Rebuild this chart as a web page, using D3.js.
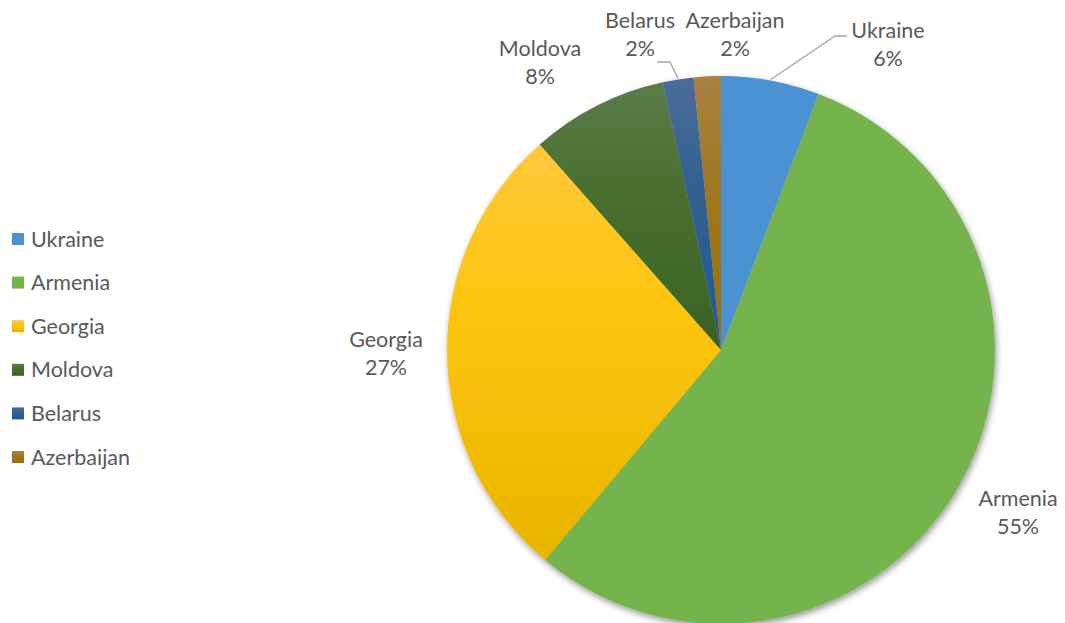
<!DOCTYPE html>
<html>
<head>
<meta charset="utf-8">
<script src="https://cdn.jsdelivr.net/npm/d3@7"></script>
<style>
  html, body { margin: 0; padding: 0; background: #fff; }
  svg { display: block; font-family: Lato, "Open Sans", sans-serif; }
</style>
</head>
<body>
<svg id="chart" width="1065" height="623"></svg>
<script>
// Share by country (percent)
const categories = ["Ukraine", "Armenia", "Georgia", "Moldova", "Belarus", "Azerbaijan"];
const values = [5.8, 55.3, 27.4, 8.1, 1.8, 1.6];
const labels = ["6%", "55%", "27%", "8%", "2%", "2%"];

// Slice fills: top, middle and bottom of a vertical gradient
const fillTop = ["#4b92d2", "#75b34d", "#ffc83c", "#5b7c4b", "#4a6c9c", "#a98141"];
const fillMid = ["#4b92d2", "#75b34d", "#fdc50c", "#49702f", "#33618f", "#a07722"];
const fillBottom = ["#4b92d2", "#75b34d", "#e8b400", "#3a6322", "#1e5a96", "#9a7000"];

const W = 1065, H = 623;
const cx = 721, cy = 350, R = 274;

// Label centres, relative to pie centre
const labelOffset = [[167, -306], [297, 162], [-335, 3], [-181, -288], [-81, -316], [14, -316]];
// Leader elbows for labels pulled away from their slice
const leaders = {
  0: [[114, -314], [126, -314]],
  4: [[-51, -288], [-64, -288]]
};

const svg = d3.select("#chart");
const defs = svg.append("defs");

categories.forEach((c, i) => {
  const g = defs.append("linearGradient")
    .attr("id", "grad" + i)
    .attr("x1", 0).attr("y1", 0).attr("x2", 0).attr("y2", 1);
  g.append("stop").attr("offset", "0%").attr("stop-color", fillTop[i]);
  g.append("stop").attr("offset", "40%").attr("stop-color", fillMid[i]);
  g.append("stop").attr("offset", "100%").attr("stop-color", fillBottom[i]);
});

const shadow = defs.append("filter").attr("id", "shadow")
  .attr("x", "-10%").attr("y", "-10%").attr("width", "120%").attr("height", "120%");
shadow.append("feDropShadow")
  .attr("dx", 1.5).attr("dy", 3).attr("stdDeviation", 3)
  .attr("flood-color", "#000").attr("flood-opacity", 0.4);

const data = categories.map((c, i) => ({ name: c, value: values[i], label: labels[i], i }));

const pie = d3.pie().sort(null).value(d => d.value);
const arc = d3.arc().innerRadius(0).outerRadius(R);
const arcs = pie(data);

const pieG = svg.append("g").attr("transform", `translate(${cx},${cy})`);

pieG.append("g").attr("filter", "url(#shadow)")
  .selectAll("path")
  .data(arcs)
  .join("path")
  .attr("d", arc)
  .attr("fill", d => `url(#grad${d.data.i})`);

// Leader lines
const midPoint = d => {
  const a = (d.startAngle + d.endAngle) / 2;
  return [Math.sin(a) * (R + 1), -Math.cos(a) * (R + 1)];
};
arcs.forEach(d => {
  const l = leaders[d.data.i];
  if (!l) return;
  const pts = [midPoint(d)].concat(l);
  pieG.append("path")
    .attr("d", d3.line()(pts))
    .attr("fill", "none")
    .attr("stroke", "#a6a6a6")
    .attr("stroke-width", 1.3);
});

// Data labels
const lab = pieG.selectAll("text.lbl")
  .data(arcs)
  .join("text")
  .attr("class", "lbl")
  .attr("text-anchor", "middle")
  .attr("fill", "#595959")
  .style("font-size", "21.5px");
lab.append("tspan")
  .attr("x", d => labelOffset[d.data.i][0])
  .attr("y", d => labelOffset[d.data.i][1] - 6)
  .text(d => d.data.name);
lab.append("tspan")
  .attr("x", d => labelOffset[d.data.i][0])
  .attr("y", d => labelOffset[d.data.i][1] + 22)
  .text(d => d.data.label);

// Legend
const legendY = d3.scalePoint().domain(categories).range([239, 457]);
const leg = svg.append("g").selectAll("g")
  .data(data)
  .join("g")
  .attr("transform", d => `translate(12,${legendY(d.name)})`);
leg.append("rect")
  .attr("x", 0).attr("y", -6).attr("width", 12).attr("height", 12)
  .attr("fill", d => `url(#grad${d.i})`);
leg.append("text")
  .attr("x", 19).attr("y", 7.5)
  .attr("fill", "#595959")
  .style("font-size", "21.5px")
  .text(d => d.name);
</script>
</body>
</html>
